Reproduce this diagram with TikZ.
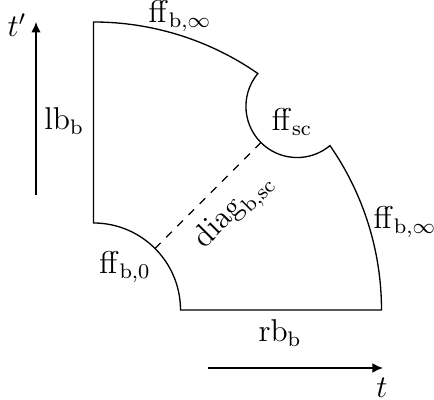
\documentclass[tikz,border=0pt]{standalone}
\usepackage{amsmath,amssymb}
\usetikzlibrary{arrows.meta}
\tikzset{
  faceline/.style = {draw=black, line width=0.5pt},
  diagline/.style = {draw=black, dashed, line width=0.5pt},
  axisarrow/.style = {->, line width=0.5pt},
}

\begin{document}
\begin{tikzpicture}[
    scale=0.668,
    >={Latex[length=4pt, width=3.6pt]},
    every node/.style = {inner sep=1pt},
    bface/.style = {font=\fontsize{11.5}{13}\selectfont},
  ]
  \useasboundingbox (-1.87,-1.80) rectangle (6.81,6.20);

  %% --- Region: outer arc (ff_b,inf), front face ff_sc, inner arc ff_b,0 ---
  \draw[faceline] (0,1.74) -- (0,5.76)
      arc[start angle=90, end angle=55.2, radius=5.76]
      arc[start angle=140.1, end angle=309.9, radius=1.024]
      arc[start angle=34.8, end angle=0, radius=5.76]
      -- (1.74,0)
      arc[start angle=0, end angle=90, radius=1.74] -- cycle;

  %% --- Diagonal (dashed) from ff_b,0 to ff_sc ---------------------------
  \coordinate (dlow) at (45:1.74);
  \coordinate (dhigh) at (45:4.736);
  \draw[diagline] (dlow) -- (dhigh);

  %% --- Face labels ------------------------------------------------------
  \node[bface] (fftop)   at (1.73,5.88)  {$\mathrm{ff}_{\mathrm{b},\infty}$};
  \node[bface] (ffright) at (6.23,1.76)  {$\mathrm{ff}_{\mathrm{b},\infty}$};
  \node[bface] (ffsc)    at (3.97,3.76)  {$\mathrm{ff}_{\mathrm{sc}}$};
  \node[bface] (ffzero)  at (0.63,0.86)  {$\mathrm{ff}_{\mathrm{b},0}$};
  \node[bface] (lb)      at (-0.59,3.78) {$\mathrm{lb}_{\mathrm{b}}$};
  \node[bface] (rb)      at (3.73,-0.46) {$\mathrm{rb}_{\mathrm{b}}$};
  \node[bface, rotate=45] (diag) at (2.82,1.97)
      {$\mathrm{diag}_{\mathrm{b},\mathrm{sc}}$};

  %% --- Axes t' and t ----------------------------------------------------
  \coordinate (tpfoot) at (-1.15,2.30);
  \coordinate (tphead) at (-1.15,5.76);
  \draw[axisarrow] (tpfoot) -- (tphead);
  \node[bface] (tplbl) at (-1.53,5.70) {$t'$};

  \coordinate (tfoot) at (2.29,-1.16);
  \coordinate (thead) at (5.79,-1.16);
  \draw[axisarrow] (tfoot) -- (thead);
  \node[bface] (tlbl) at (5.77,-1.56) {$t$};
\end{tikzpicture}
\end{document}
